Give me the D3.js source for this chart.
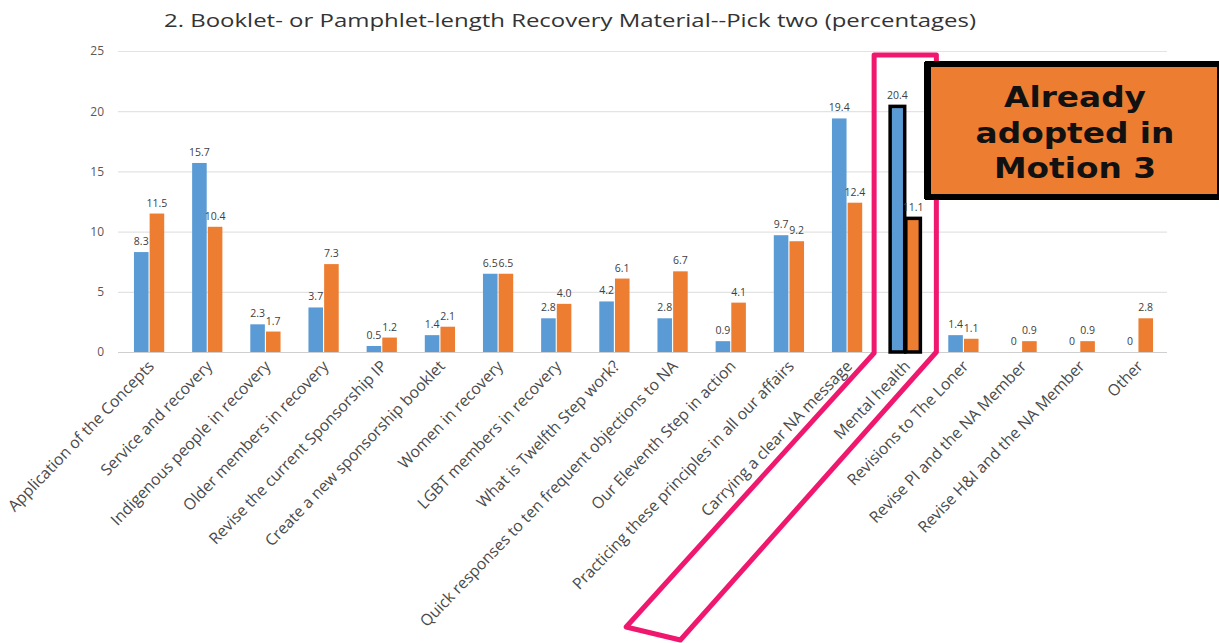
<!DOCTYPE html>
<html>
<head>
<meta charset="utf-8">
<script src="https://cdn.jsdelivr.net/npm/d3@7"></script>
<style>
  body { margin: 0; background: #fff; }
  svg { display: block; }
</style>
</head>
<body>
<div id="chart"></div>
<script>
var categories = ["Application of the Concepts", "Service and recovery", "Indigenous people in recovery",
    "Older members in recovery", "Revise the current Sponsorship IP", "Create a new sponsorship booklet",
    "Women in recovery", "LGBT members in recovery", "What is Twelfth Step work?",
    "Quick responses to ten frequent objections to NA", "Our Eleventh Step in action",
    "Practicing these principles in all our affairs", "Carrying a clear NA message", "Mental health",
    "Revisions to The Loner", "Revise PI and the NA Member", "Revise H&I and the NA Member", "Other"];
var blueValues = [8.3, 15.7, 2.3, 3.7, 0.5, 1.4, 6.5, 2.8, 4.2, 2.8, 0.9, 9.7, 19.4, 20.4, 1.4, 0, 0, 0];
var orangeValues = [11.5, 10.4, 1.7, 7.3, 1.2, 2.1, 6.5, 4.0, 6.1, 6.7, 4.1, 9.2, 12.4, 11.1, 1.1, 0.9, 0.9, 2.8];
var yTicks = [0, 5, 10, 15, 20, 25];
var highlighted = "Mental health";
var noteLines = ["Already", "adopted in", "Motion 3"];

var width = 1219, height = 643;
var color = {blue: "#5B9BD5", orange: "#ED7D31"};

var svg = d3.select("#chart").append("svg")
    .attr("width", width)
    .attr("height", height);

var x0 = d3.scaleBand()
    .domain(categories)
    .range([120, 1167])
    .paddingInner(0.48)
    .paddingOuter(0.24);

var x1 = d3.scaleBand()
    .domain(["blue", "orange"])
    .range([0, x0.bandwidth()])
    .paddingInner(0.07);

var y = d3.scaleLinear()
    .domain([0, 25])
    .range([352, 51]);

// title
svg.append("text")
    .attr("x", 570)
    .attr("y", 27)
    .attr("text-anchor", "middle")
    .style("font-family", "'Open Sans', sans-serif")
    .style("font-size", "18.5px")
    .style("fill", "#333")
    .attr("textLength", 812)
    .attr("lengthAdjust", "spacingAndGlyphs")
    .text("2. Booklet- or Pamphlet-length Recovery Material--Pick two (percentages)");

// gridlines
svg.append("g").selectAll("line")
    .data(yTicks)
    .enter().append("line")
    .attr("x1", 118).attr("x2", 1167)
    .attr("y1", function(d){ return y(d) + 0.5; })
    .attr("y2", function(d){ return y(d) + 0.5; })
    .style("stroke", function(d){ return d == 0 ? "#cfcfcf" : "#e3e3e3"; })
    .style("stroke-width", 1.2);

var yAxis = svg.append("g")
    .attr("transform", "translate(104,0)")
    .call(d3.axisLeft(y).tickValues(yTicks).tickSize(0).tickPadding(0));
yAxis.select(".domain").remove();
yAxis.selectAll("text")
    .style("font-family", "'Open Sans', sans-serif")
    .style("font-size", "12px")
    .style("fill", "#595959");

var rows = categories.map(function(c, i){
    return {key: c, blue: blueValues[i], orange: orangeValues[i]};
});

var groups = svg.append("g").selectAll("g")
    .data(rows)
    .enter().append("g")
    .attr("transform", function(d){ return "translate(" + x0(d.key) + ",0)"; });

var bars = groups.selectAll("rect")
    .data(function(d){
        return ["blue", "orange"].map(function(s){ return {series: s, value: d[s], key: d.key}; });
    })
    .enter();

bars.append("rect")
    .attr("x", function(d){ return x1(d.series); })
    .attr("y", function(d){ return y(d.value); })
    .attr("width", x1.bandwidth())
    .attr("height", function(d){ return y(0) - y(d.value); })
    .style("fill", function(d){ return color[d.series]; })
    .style("stroke", function(d){ return d.key == highlighted ? "#000" : "none"; })
    .style("stroke-width", 3.5);

bars.append("text")
    .attr("x", function(d){ return x1(d.series) + x1.bandwidth() / 2; })
    .attr("y", function(d){ return y(d.value) - 7; })
    .attr("text-anchor", "middle")
    .style("font-family", "'Open Sans', sans-serif")
    .style("font-size", "10.5px")
    .style("fill", "#404040")
    .text(function(d){ return d.value == 0 ? "0" : d.value.toFixed(1); });

// category labels
svg.append("g").selectAll("text")
    .data(categories)
    .enter().append("text")
    .attr("transform", function(d){
        return "translate(" + (x0(d) + x0.bandwidth() / 2 + 6) + "," + 367 + ") rotate(-46)";
    })
    .attr("text-anchor", "end")
    .style("font-family", "'Open Sans', sans-serif")
    .style("font-size", "15.8px")
    .style("fill", "#4a4a4a")
    .text(function(d){ return d; });

// pink outline round the highlighted column and its label
var hx = x0(highlighted), hw = x0.bandwidth();
var outline = [
    [hx - 16, y(25) + 4],
    [hx + hw + 16, y(25) + 4],
    [hx + hw + 16, y(0)],
    [hx + hw - 240, y(0) + 288],
    [hx - 264, y(0) + 275],
    [hx - 16, y(0) + 1]
];
svg.append("path")
    .attr("d", "M" + outline.join("L") + "Z")
    .style("fill", "none")
    .style("stroke", "#F0186E")
    .style("stroke-width", 5)
    .style("stroke-linejoin", "round");

// note box
var note = svg.append("g");
note.append("rect")
    .attr("x", 928).attr("y", 64)
    .attr("width", 292).attr("height", 133)
    .style("fill", color.orange)
    .style("stroke", "#000")
    .style("stroke-width", 6);
note.append("rect")
    .attr("x", 924).attr("y", 62)
    .attr("width", 7).attr("height", 137)
    .style("fill", "#000");
note.selectAll("text.note")
    .data(noteLines)
    .enter().append("text")
    .attr("class", "note")
    .attr("transform", function(d, i){ return "translate(1075," + (107 + i * 35.5) + ") scale(1.15,1)"; })
    .attr("text-anchor", "middle")
    .style("font-family", "'DejaVu Sans', sans-serif")
    .style("font-weight", "bold")
    .style("font-size", "28.5px")
    .style("fill", "#111")
    .text(function(d){ return d; });
</script>
</body>
</html>
